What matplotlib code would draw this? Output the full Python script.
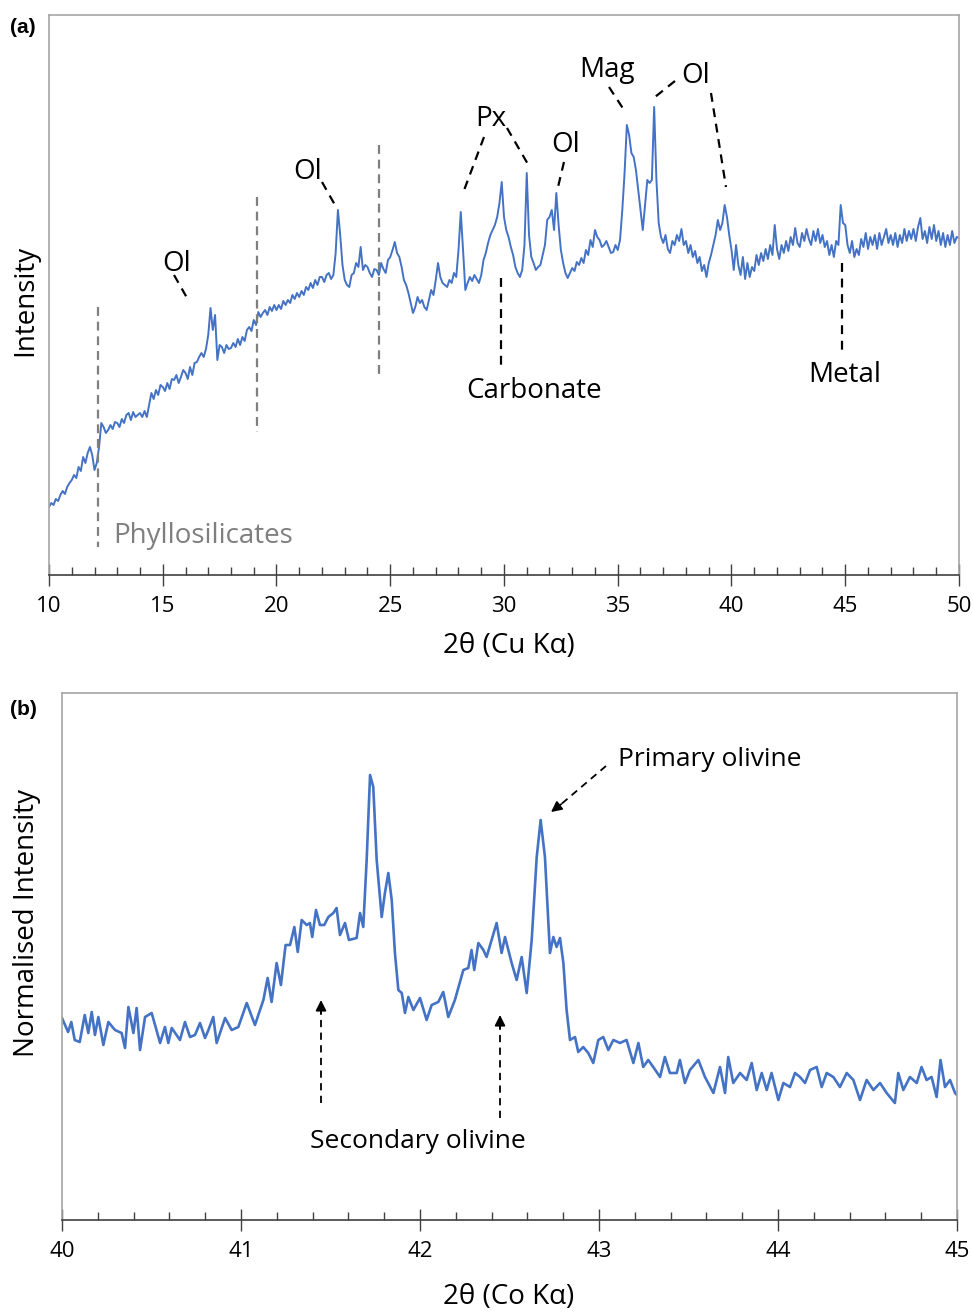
import numpy as np
import matplotlib.pyplot as plt
from matplotlib.ticker import MultipleLocator

plt.rcParams['font.family'] = ['Open Sans', 'DejaVu Sans']

# (a) bulk pattern, Cu K-alpha, read every 0.1 deg from 10 to 50
counts_cu = [
    68, 72, 70, 76, 74, 80, 84, 81, 88, 92,
    95, 100, 97, 108, 104, 118, 112, 122, 128, 120,
    105, 112, 128, 152, 148, 142, 145, 150, 146, 153,
    152, 148, 156, 152, 160, 162, 155, 163, 158, 160,
    162, 158, 164, 158, 170, 182, 176, 185, 180, 190,
    188, 184, 192, 186, 196, 195, 200, 192, 198, 205,
    202, 196, 208, 200, 212, 213, 218, 222, 218, 226,
    240, 267, 245, 260, 215, 230, 228, 222, 230, 226,
    227, 232, 228, 236, 230, 238, 234, 245, 248, 244,
    255, 250, 263, 258, 262, 265, 260, 268, 264, 270,
    265, 270, 266, 274, 270, 275, 272, 280, 276, 282,
    278, 284, 280, 288, 285, 292, 287, 295, 290, 298,
    298, 293, 300, 302, 296, 300, 322, 365, 340, 310,
    295, 290, 288, 300, 302, 312, 308, 328, 305, 310,
    308, 302, 298, 306, 305, 300, 312, 306, 302, 315,
    318, 325, 333, 322, 318, 308, 295, 290, 282, 272,
    262, 268, 278, 272, 275, 268, 265, 275, 285, 280,
    295, 312, 298, 292, 290, 288, 295, 292, 302, 298,
    325, 363, 325, 285, 292, 298, 294, 300, 296, 292,
    300, 315, 322, 332, 340, 345, 350, 358, 372, 393,
    358, 345, 338, 328, 320, 308, 302, 298, 305, 330,
    402, 340, 318, 312, 305, 308, 310, 320, 330, 355,
    358, 365, 345, 382, 350, 325, 312, 302, 297, 302,
    307, 304, 313, 310, 317, 312, 325, 320, 335, 328,
    345, 338, 335, 328, 330, 334, 328, 322, 323, 330,
    325, 335, 365, 402, 450, 440, 422, 418, 405, 385,
    365, 345, 370, 395, 392, 395, 468, 395, 352, 338,
    332, 340, 326, 322, 334, 330, 340, 334, 346, 330,
    334, 322, 330, 318, 324, 312, 318, 304, 310, 298,
    312, 320, 330, 340, 355, 345, 352, 370, 358, 340,
    325, 305, 330, 310, 300, 318, 296, 312, 298, 308,
    304, 320, 310, 322, 314, 326, 316, 330, 320, 350,
    326, 316, 330, 322, 334, 324, 338, 330, 347, 332,
    328, 342, 334, 346, 336, 330, 344, 334, 346, 332,
    340, 328, 334, 320, 330, 318, 334, 330, 370, 352,
    350, 330, 322, 334, 318, 326, 320, 336, 328, 342,
    326, 338, 330, 340, 326, 342, 330, 338, 346, 332,
    340, 330, 342, 328, 340, 332, 346, 334, 344, 336,
    346, 334, 348, 357, 336, 344, 332, 348, 336, 350,
    334, 344, 330, 342, 328, 340, 330, 344, 332, 338,
    337]
two_theta_cu = np.linspace(10, 50, len(counts_cu))

# (b) detail, Co K-alpha
two_theta_co = [
    40.000, 40.034, 40.052, 40.071, 40.099, 40.127, 40.147, 40.166, 40.184, 40.203,
    40.231, 40.259, 40.296, 40.333, 40.352, 40.371, 40.399, 40.417, 40.436, 40.464,
    40.501, 40.548, 40.575, 40.594, 40.613, 40.659, 40.687, 40.715, 40.743, 40.771,
    40.799, 40.818, 40.845, 40.864, 40.911, 40.948, 40.985, 41.032, 41.078, 41.125,
    41.149, 41.171, 41.199, 41.223, 41.249, 41.274, 41.298, 41.317, 41.339, 41.367,
    41.385, 41.398, 41.419, 41.441, 41.465, 41.488, 41.516, 41.534, 41.553, 41.581,
    41.603, 41.646, 41.665, 41.683, 41.702, 41.721, 41.739, 41.758, 41.786, 41.804,
    41.823, 41.842, 41.860, 41.879, 41.898, 41.916, 41.935, 41.963, 42.000, 42.037,
    42.065, 42.102, 42.130, 42.158, 42.195, 42.242, 42.270, 42.288, 42.303, 42.326,
    42.354, 42.372, 42.400, 42.428, 42.456, 42.475, 42.512, 42.540, 42.568, 42.596,
    42.624, 42.652, 42.674, 42.698, 42.726, 42.745, 42.763, 42.782, 42.801, 42.819,
    42.838, 42.866, 42.884, 42.912, 42.940, 42.968, 42.996, 43.024, 43.052, 43.080,
    43.117, 43.154, 43.192, 43.220, 43.247, 43.275, 43.303, 43.341, 43.368, 43.396,
    43.434, 43.452, 43.480, 43.508, 43.555, 43.592, 43.639, 43.676, 43.704, 43.722,
    43.750, 43.788, 43.825, 43.853, 43.881, 43.909, 43.937, 43.964, 44.002, 44.030,
    44.067, 44.095, 44.123, 44.151, 44.179, 44.216, 44.244, 44.272, 44.309, 44.346,
    44.384, 44.421, 44.458, 44.495, 44.533, 44.570, 44.607, 44.653, 44.672, 44.700,
    44.737, 44.775, 44.802, 44.830, 44.858, 44.886, 44.908, 44.933, 44.961, 44.989,
    45.000]
counts_co = [
    202, 188, 198, 180, 178, 205, 187, 208, 185, 203,
    175, 198, 190, 187, 172, 213, 187, 212, 170, 203,
    207, 177, 193, 177, 192, 180, 198, 183, 185, 197,
    182, 190, 203, 177, 202, 190, 193, 217, 195, 220,
    242, 218, 257, 235, 275, 275, 293, 268, 300, 295,
    297, 283, 310, 295, 295, 303, 307, 312, 285, 297,
    280, 282, 307, 293, 360, 445, 433, 360, 303, 327,
    347, 320, 267, 230, 227, 207, 223, 210, 222, 200,
    215, 218, 228, 203, 220, 250, 252, 270, 250, 277,
    270, 263, 280, 297, 267, 283, 257, 240, 263, 227,
    280, 363, 400, 363, 267, 283, 273, 282, 257, 210,
    180, 183, 168, 173, 167, 157, 180, 183, 170, 180,
    177, 180, 157, 177, 153, 160, 153, 143, 163, 147,
    147, 160, 137, 150, 160, 143, 127, 153, 127, 163,
    137, 147, 140, 157, 130, 147, 130, 147, 120, 137,
    133, 147, 143, 137, 150, 153, 133, 147, 143, 133,
    147, 140, 120, 140, 130, 137, 127, 117, 147, 130,
    143, 137, 153, 140, 143, 123, 160, 133, 140, 127,
    125]

blue = '#4472C4'
ann = 20

fig = plt.figure(figsize=(9.73, 13.13), dpi=100)
ax1 = fig.add_axes([0.05036, 0.56207, 0.93525, 0.42651])
ax2 = fig.add_axes([0.06372, 0.07083, 0.91984, 0.40137])


def style(ax, major, minor):
    for s in ['top', 'left', 'right']:
        ax.spines[s].set_color('#a6a6a6')
        ax.spines[s].set_linewidth(1.2)
    ax.spines['bottom'].set_color('#404040')
    ax.spines['bottom'].set_linewidth(1.2)
    ax.set_yticks([])
    ax.xaxis.set_major_locator(MultipleLocator(major))
    ax.xaxis.set_minor_locator(MultipleLocator(minor))
    ax.tick_params(axis='x', which='major', direction='inout', length=16,
                   width=1, color='#404040', labelsize=16, pad=7)
    ax.tick_params(axis='x', which='minor', direction='in', length=6,
                   width=1, color='#404040')


# ---- panel (a)
ax1.plot(two_theta_cu, counts_cu, color=blue, lw=1.4)
ax1.set_xlim(10, 50)
ax1.set_ylim(0, 560)
style(ax1, 5, 1)

gray_dash = dict(color='#7f7f7f', lw=1.6, ls=(0, (4, 2.6)))
ax1.plot([12.154, 12.154], [268, 28], **gray_dash)
ax1.plot([19.121, 19.121], [378, 143], **gray_dash)
ax1.plot([24.527, 24.527], [430, 197], **gray_dash)
ax1.text(12.813, 32, 'Phyllosilicates', color='#7f7f7f', fontsize=ann,
         ha='left', va='baseline')

black_dash = dict(color='black', lw=1.6, ls=(0, (4, 3)))
leaders = [
    ([15.495, 16.07], [300, 277]),
    ([22.0, 22.571], [393, 370]),
    ([29.121, 28.198], [438, 382]),
    ([30.132, 31.099], [447, 409]),
    ([32.637, 32.374], [413, 388]),
    ([34.615, 35.275], [488, 465]),
    ([37.516, 36.637], [494, 478]),
    ([39.099, 39.758], [482, 388]),
    ([29.868, 29.868], [297, 209]),
    ([44.857, 44.857], [312, 225]),
]
for xs, ys in leaders:
    ax1.plot(xs, ys, **black_dash)

labels_a = [
    ('Ol', 15.63, 304), ('Ol', 21.385, 396), ('Px', 29.43, 449),
    ('Ol', 32.725, 423), ('Mag', 34.527, 498), ('Ol', 38.44, 492),
    ('Carbonate', 31.34, 177), ('Metal', 44.99, 193),
]
for t, x, y in labels_a:
    ax1.text(x, y, t, fontsize=ann, ha='center', va='baseline')

# ---- panel (b)
ax2.plot(two_theta_co, counts_co, color=blue, lw=1.9, solid_joinstyle='round')
ax2.set_xlim(40, 45)
ax2.set_ylim(0, 527)
style(ax2, 1, 0.2)

arrow_dash = dict(color='black', lw=1.3, ls=(0, (4, 3)))
head = dict(arrowstyle='-|>', color='black', lw=1.2, mutation_scale=16,
            shrinkA=0, shrinkB=0)
# primary olivine
ax2.plot([43.039, 42.77], [454, 413], **arrow_dash)
ax2.annotate('', xy=(42.732, 408), xytext=(42.79, 416), arrowprops=head)
ax2.text(43.106, 454, 'Primary olivine', fontsize=19, ha='left', va='baseline')
# secondary olivine
for x, tip, base in [(41.447, 220, 117), (42.447, 205, 102)]:
    ax2.plot([x, x], [base, tip - 10], **arrow_dash)
    ax2.annotate('', xy=(x, tip), xytext=(x, tip - 14), arrowprops=head)
ax2.text(41.989, 72, 'Secondary olivine', fontsize=19, ha='center', va='baseline')

# axis titles
fig.text(0.0257, 0.7715, 'Intensity', rotation=90, ha='center', va='center',
         fontsize=20)
fig.text(0.0277, 0.297, 'Normalised Intensity', rotation=90, ha='center',
         va='center', fontsize=20)
fig.text(0.5231, 0.508, '2θ (Cu Kα)', ha='center', va='center', fontsize=20)
fig.text(0.5231, 0.0122, '2θ (Co Kα)', ha='center', va='center', fontsize=20)
fig.text(0.0237, 0.9794, '(a)', ha='center', va='center', fontsize=15,
         fontweight='bold', family=['Liberation Sans', 'DejaVu Sans'])
fig.text(0.0237, 0.4593, '(b)', ha='center', va='center', fontsize=15,
         fontweight='bold', family=['Liberation Sans', 'DejaVu Sans'])

fig.savefig('out.png', dpi=100)
